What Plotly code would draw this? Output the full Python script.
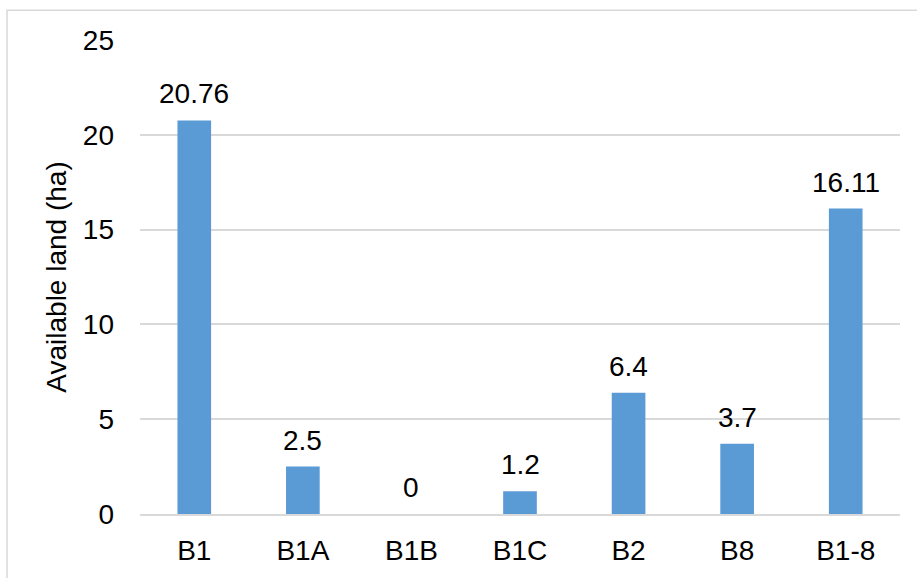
import plotly.graph_objects as go

categories = ["B1", "B1A", "B1B", "B1C", "B2", "B8", "B1-8"]
available_land = [20.76, 2.5, 0, 1.2, 6.4, 3.7, 16.11]
value_labels = ["20.76", "2.5", "0", "1.2", "6.4", "3.7", "16.11"]
y_ticks = [0, 5, 10, 15, 20, 25]

FONT = "Liberation Sans, Arial, sans-serif"
FONT_SIZE = 28
BAR_COLOR = "#5b9bd5"
GRID_COLOR = "#d9d9d9"

fig = go.Figure(
    go.Bar(
        x=categories,
        y=available_land,
        marker=dict(color=BAR_COLOR, line=dict(width=0)),
        width=0.31,
        hoverinfo="skip",
    )
)

# value labels above each bar
for cat, val, lab in zip(categories, available_land, value_labels):
    fig.add_annotation(
        x=cat, y=val, text=lab, showarrow=False,
        yanchor="bottom", yshift=9,
        font=dict(family=FONT, size=FONT_SIZE, color="#000000"),
    )

# outer chart border
fig.add_shape(
    type="rect", xref="paper", yref="paper",
    x0=(7 - 140) / 760, x1=1.05, y0=-0.2, y1=1 + 30 / 478,
    line=dict(color=GRID_COLOR, width=1.5), fillcolor="rgba(0,0,0,0)",
    layer="below",
)

fig.update_layout(
    width=917, height=578,
    margin=dict(l=140, r=17, t=40, b=60),
    paper_bgcolor="white", plot_bgcolor="white",
    showlegend=False,
    font=dict(family=FONT, size=FONT_SIZE, color="#000000"),
    xaxis=dict(
        showgrid=False, showline=True, linecolor=GRID_COLOR, linewidth=2,
        ticks="", ticklabelstandoff=10,
        tickfont=dict(family=FONT, size=FONT_SIZE),
    ),
    yaxis=dict(
        range=[0, 25], tickvals=y_ticks, showgrid=True, gridcolor=GRID_COLOR,
        gridwidth=1.5, zeroline=False, showline=False, ticks="",
        ticklabelstandoff=25,
        tickfont=dict(family=FONT, size=FONT_SIZE),
        title=dict(text="Available land (ha)",
                   font=dict(family=FONT, size=FONT_SIZE), standoff=8),
    ),
)

fig.write_html("out.html")
